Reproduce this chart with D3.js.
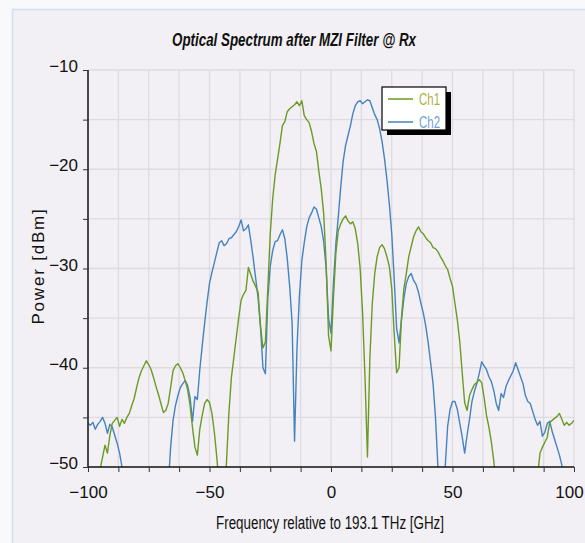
<!DOCTYPE html>
<html>
<head>
<meta charset="utf-8">
<script src="https://cdn.jsdelivr.net/npm/d3@7"></script>
<style>
  html, body { margin: 0; padding: 0; background: #f9f9fb; }
  svg { display: block; }
</style>
</head>
<body>
<svg id="chart" width="585" height="543"></svg>
<script>
// Frequency grid, GHz relative to 193.1 THz (1 GHz sampling)
const freqGHz = d3.range(-100, 101);

// Measured optical power per channel, dBm (values below -50 fall off the plot)
const ch1Power = [
  -58, -57, -56, -54, -52, -50.2, -49.0, -47.8, -48.6, -46.8,
  -45.6, -45.3, -45.0, -45.9, -45.2, -45.6, -45.0, -44.6, -43.8, -43.1,
  -42.0, -41.0, -40.3, -39.8, -39.3, -39.7, -40.2, -41.0, -41.9, -42.7,
  -43.6, -44.5, -44.3, -43.6, -42.0, -40.3, -39.8, -39.6, -40.0, -40.5,
  -41.3, -42.2, -43.8, -46.0, -48.0, -48.8, -46.2, -44.8, -43.6, -43.2,
  -43.5, -44.6, -46.5, -49.0, -52, -56, -54, -49.5, -44.5, -41.0,
  -39.0, -37.0, -35.0, -33.2, -32.6, -32.2, -29.9, -30.6, -31.3, -31.8,
  -32.4, -35.8, -38.0, -37.4, -32.0, -26.5, -23.0, -20.6, -19.0, -17.4,
  -15.6, -15.2, -14.2, -13.9, -13.7, -13.5, -13.2, -13.6, -13.1, -14.6,
  -15.0, -15.3, -16.2, -17.4, -18.2, -20.2, -22.0, -24.5, -29.5, -36.8,
  -38.3, -33.0, -28.5, -26.2, -25.5, -25.0, -24.7, -25.2, -25.5, -25.3,
  -26.0, -27.5, -30.0, -34.5, -41.0, -49.0, -39.0, -33.5, -30.5, -28.8,
  -27.9, -27.6, -28.0, -28.8, -29.8, -32.0, -36.5, -40.5, -40.0, -35.0,
  -32.0, -30.5, -28.8, -27.8, -26.8, -26.2, -25.8, -26.3, -26.5, -26.9,
  -27.2, -27.4, -27.9, -28.0, -28.3, -28.8, -29.2, -29.7, -30.1, -31.0,
  -31.8, -33.5, -35.2, -37.4, -40.5, -43.5, -44.3, -42.8, -42.2, -41.7,
  -41.5, -41.2, -41.5, -43.0, -44.8, -46.0, -47.5, -49.4, -52, -55,
  -58, -58, -58, -58, -58, -58, -58, -58, -58, -58,
  -58, -58, -58, -58, -58, -51, -48.6, -48.0, -47.5, -47.0,
  -45.5, -45.3, -45.1, -44.9, -44.6, -45.2, -45.8, -45.5, -45.8, -45.6,
  -45.3
];

const ch2Power = [
  -45.6, -45.8, -45.5, -46.2, -45.7, -45.4, -45.0, -45.6, -46.6, -45.7,
  -46.0, -46.8, -47.6, -48.6, -50.0, -53, -56, -58, -58, -58,
  -58, -58, -58, -58, -58, -58, -58, -58, -58, -58,
  -58, -58, -58, -52, -48.0, -45.3, -43.8, -42.8, -42.0, -41.6,
  -41.3, -41.8, -43.0, -45.4, -42.9, -43.2, -40.2, -37.8, -35.5, -33.4,
  -31.5, -30.4, -29.4, -28.4, -27.4, -27.2, -27.7, -27.5, -27.0, -26.9,
  -26.6, -26.3, -25.8, -25.1, -26.2, -26.0, -25.6, -27.2, -29.0, -31.0,
  -33.0, -36.0, -40.0, -40.6, -33.0, -29.8, -28.2, -27.3, -27.2, -26.6,
  -26.1, -27.0, -29.0, -31.8, -35.5, -47.4, -38.0, -32.8, -29.2, -27.4,
  -25.8, -24.9, -24.4, -23.8, -24.0, -24.9, -25.8, -27.3, -30.0, -35.0,
  -36.5, -31.5, -27.5, -24.8, -21.8, -19.2, -17.6, -16.6, -15.6, -14.4,
  -13.6, -13.2, -13.1, -13.4, -13.2, -13.0, -13.1, -13.8, -14.5, -15.0,
  -15.9, -17.2, -18.9, -21.0, -23.5, -26.5, -31.0, -36.0, -37.5, -35.2,
  -33.0, -31.5, -30.8, -30.5, -31.2, -31.6, -32.4, -33.5, -34.5, -35.8,
  -37.5, -39.5, -41.6, -45.0, -50.0, -55, -54, -50, -45.9, -44.2,
  -43.4, -43.4, -44.2, -45.6, -47.0, -48.6, -46.8, -45.2, -43.4, -42.4,
  -41.6, -40.6, -39.4, -39.8, -40.2, -40.9, -41.4, -42.3, -43.6, -44.3,
  -42.6, -43.0, -41.9, -41.3, -40.8, -40.3, -39.5, -40.2, -40.9, -41.6,
  -42.8, -43.4, -43.6, -44.4, -45.2, -45.8, -45.4, -46.9, -46.5, -45.6,
  -45.4, -46.4, -47.2, -48.0, -48.8, -49.8, -52, -55, -58, -58,
  -58
];

const seriesNames = ["Ch1", "Ch2"];
const xTicks = d3.range(-100, 100.1, 12.5);
const xLabelTicks = [-100, -50, 0, 50, 100];
const yTicks = d3.range(-50, -9.9, 5);
const yLabelTicks = [-50, -40, -30, -20, -10];

const REGULAR = "'Liberation Sans', Arial, sans-serif";
const lineColors = ["#6b9a24", "#4583c0"];
const legendTextColors = ["#a9b33c", "#6da2d4"];

const svg = d3.select("#chart");
const W = 585, H = 543;
const plot = { left: 88, right: 574, top: 70, bottom: 467 };

// Chart panel with a thin pale-blue frame on the left and top
svg.append("rect").attr("x", 12).attr("y", 9).attr("width", W - 12).attr("height", H - 9)
  .attr("fill", "#f2f0f4");
svg.append("line").attr("x1", 12.5).attr("x2", 12.5).attr("y1", 9).attr("y2", H)
  .attr("stroke", "#cfe0f0").attr("stroke-width", 1.5);
svg.append("line").attr("x1", 12).attr("x2", W).attr("y1", 9.5).attr("y2", 9.5)
  .attr("stroke", "#cfe0f0").attr("stroke-width", 1.5);

const x = d3.scaleLinear().domain([-100, 100]).range([plot.left, plot.right]);
const y = d3.scaleLinear().domain([-50, -10]).range([plot.bottom, plot.top]);

// Grid
const grid = svg.append("g").attr("stroke", "#dedbe0").attr("stroke-width", 1.3);
grid.selectAll("line.v").data(xTicks.filter(d => d > -100)).join("line")
  .attr("x1", d => x(d)).attr("x2", d => x(d))
  .attr("y1", plot.top).attr("y2", plot.bottom);
grid.selectAll("line.h").data(yTicks.filter(d => d > -50)).join("line")
  .attr("x1", plot.left).attr("x2", plot.right)
  .attr("y1", d => y(d)).attr("y2", d => y(d));

// Spectra, clipped to the plot frame
svg.append("clipPath").attr("id", "plotClip").append("rect")
  .attr("x", plot.left).attr("y", plot.top)
  .attr("width", plot.right - plot.left).attr("height", plot.bottom - plot.top);

const line = d3.line().x((d, i) => x(freqGHz[i])).y(d => y(d));
const curves = svg.append("g").attr("clip-path", "url(#plotClip)");
[[ch2Power, 1], [ch1Power, 0]].forEach(([vals, idx]) => {
  curves.append("path").datum(vals)
    .attr("fill", "none")
    .attr("stroke", lineColors[idx])
    .attr("stroke-width", 1.4)
    .attr("stroke-linejoin", "round")
    .attr("d", line);
});

// Axes
const fmtMinus = v => (v < 0 ? "\u2212" + Math.abs(v) : String(v));
const xAxis = d3.axisBottom(x).tickValues(xTicks).tickSize(5).tickPadding(14)
  .tickFormat(d => xLabelTicks.includes(d) ? fmtMinus(d) : "");
const yAxis = d3.axisLeft(y).tickValues(yTicks).tickSize(5).tickPadding(5)
  .tickFormat(d => yLabelTicks.includes(d) ? fmtMinus(d) : "");

const gx = svg.append("g").attr("transform", `translate(0,${plot.bottom})`).call(xAxis);
const gy = svg.append("g").attr("transform", `translate(${plot.left},0)`).call(yAxis);
[gx, gy].forEach(g => {
  g.select(".domain").attr("stroke", "#111").attr("stroke-width", 1.5);
  g.selectAll(".tick line").attr("stroke", "#333").attr("stroke-width", 1);
  g.selectAll(".tick text").attr("fill", "#111")
    .style("font-family", REGULAR).style("font-size", "17px");
});
gx.select(".domain").attr("d", `M${plot.left},0H${plot.right}`);
gy.select(".domain").attr("d", `M0,${plot.bottom}V${plot.top}`);
gy.selectAll(".tick text").attr("dy", "0.1em");
gx.selectAll(".tick text").attr("dy", "0.71em");
gx.selectAll(".tick").filter(d => d === 100).select("text").attr("x", -5);

// Titles (condensed by textLength)
svg.append("text").attr("x", 294).attr("y", 46).attr("text-anchor", "middle")
  .attr("textLength", 244).attr("lengthAdjust", "spacingAndGlyphs")
  .style("font-family", REGULAR).style("font-size", "18px").style("font-style", "italic")
  .style("font-weight", "bold").attr("fill", "#111")
  .text("Optical Spectrum after MZI Filter @ Rx");

svg.append("text").attr("x", 330).attr("y", 529).attr("text-anchor", "middle")
  .attr("textLength", 228).attr("lengthAdjust", "spacingAndGlyphs")
  .style("font-family", REGULAR).style("font-size", "17.5px").attr("fill", "#111")
  .text("Frequency relative to 193.1 THz [GHz]");

svg.append("text").attr("transform", "translate(44,266) rotate(-90)").attr("text-anchor", "middle")
  .style("font-family", REGULAR).style("font-size", "17px").style("letter-spacing", "1.8px")
  .attr("fill", "#111")
  .text("Power [dBm]");

// Legend with drop shadow
const lg = svg.append("g").attr("transform", "translate(382,87)");
lg.append("rect").attr("x", 5).attr("y", 5).attr("width", 64).attr("height", 43).attr("fill", "#000");
lg.append("rect").attr("x", 0).attr("y", 0).attr("width", 64).attr("height", 43)
  .attr("fill", "#fff").attr("stroke", "#000").attr("stroke-width", 1.2);
seriesNames.forEach((name, i) => {
  const yy = 12 + i * 23;
  lg.append("line").attr("x1", 6).attr("x2", 31).attr("y1", yy).attr("y2", yy)
    .attr("stroke", lineColors[i]).attr("stroke-width", 1.5);
  lg.append("text").attr("x", 37).attr("y", yy + 6)
    .attr("textLength", 21).attr("lengthAdjust", "spacingAndGlyphs")
    .style("font-family", REGULAR).style("font-size", "16px")
    .attr("fill", legendTextColors[i]).text(name);
});
</script>
</body>
</html>
